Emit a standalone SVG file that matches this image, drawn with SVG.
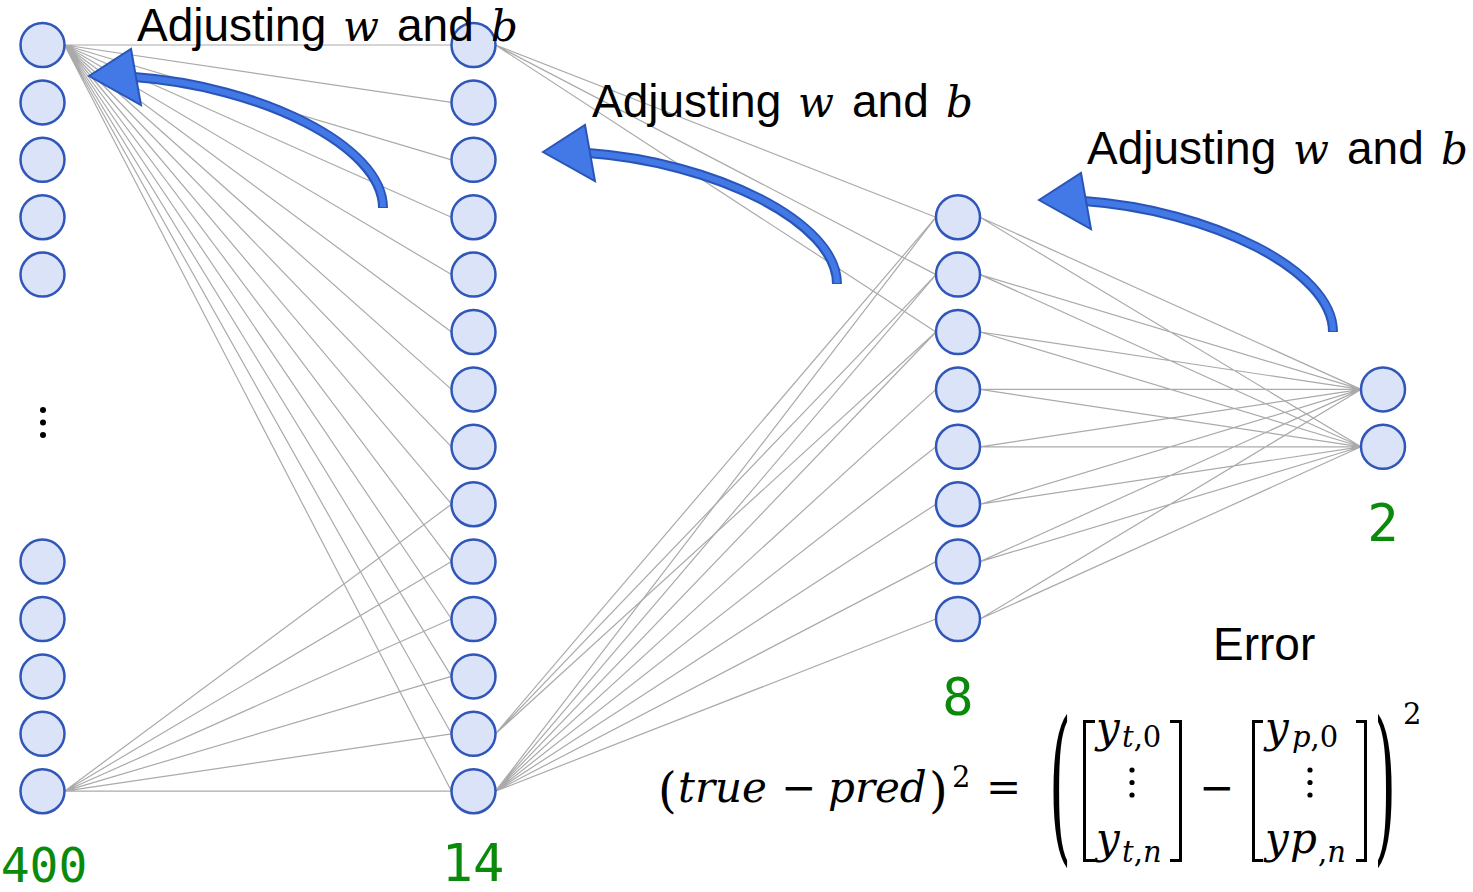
<svg xmlns="http://www.w3.org/2000/svg" width="1473" height="892" viewBox="0 0 1473 892">
<style>
.node{fill:#dae3f8;stroke:#2f56b8;stroke-width:2.5}
.conn{stroke:#aaaaaa;stroke-width:1.2;fill:none}
.lbl{font-family:"Liberation Sans",Arial,sans-serif;font-size:46px;fill:#000}
.mi{font-family:"DejaVu Serif",serif;font-style:italic;font-size:42px}
.num{font-family:"DejaVu Sans Mono",monospace;font-size:52px;fill:#0a8a0a;text-anchor:middle}
.math{font-family:"DejaVu Serif",serif;font-size:42px;fill:#000}
.it{font-style:italic}
.sub{font-size:29px}
.brk{fill:none;stroke:#000;stroke-width:3}
.dot{fill:#000}
</style>
<defs>
<g id="arrowShape">
<path d="M45,1 C171,10 294,70 294,132" fill="none" stroke="#2a55b8" stroke-width="10"/>
<path d="M45,1 C171,10 294,70 294,131" fill="none" stroke="#4279e6" stroke-width="6"/>
<polygon points="0,0 42,-27 52,29" fill="#4279e6" stroke="#2a55b8" stroke-width="2"/>
</g>
</defs>
<rect width="1473" height="892" fill="#fff"/>

<g id="connectors" class="conn">
<path d="M64.5,45 L451.5,45 M64.5,45 L451.5,102.4 M64.5,45 L451.5,159.8 M64.5,45 L451.5,217.2 M64.5,45 L451.5,274.6 M64.5,45 L451.5,332 M64.5,45 L451.5,389.4 M64.5,45 L451.5,446.8 M64.5,45 L451.5,504.2 M64.5,45 L451.5,561.6 M64.5,45 L451.5,619 M64.5,45 L451.5,676.4 M64.5,45 L451.5,733.8 M64.5,45 L451.5,791.2"/>
<path d="M64.5,791.2 L451.5,504.2 M64.5,791.2 L451.5,561.6 M64.5,791.2 L451.5,619 M64.5,791.2 L451.5,676.4 M64.5,791.2 L451.5,733.8 M64.5,791.2 L451.5,791.2"/>
<path d="M495.5,45 L936,217.2 M495.5,45 L936,274.6 M495.5,45 L936,332"/>
<path d="M495.5,733.8 L936,217.2 M495.5,733.8 L936,274.6 M495.5,733.8 L936,332"/>
<path d="M495.5,791.2 L936,217.2 M495.5,791.2 L936,274.6 M495.5,791.2 L936,332 M495.5,791.2 L936,389.4 M495.5,791.2 L936,446.8 M495.5,791.2 L936,504.2 M495.5,791.2 L936,561.6 M495.5,791.2 L936,619"/>
<path d="M980,217.2 L1361,389.4 M980,217.2 L1361,446.8 M980,274.6 L1361,389.4 M980,274.6 L1361,446.8 M980,332 L1361,389.4 M980,332 L1361,446.8 M980,389.4 L1361,389.4 M980,389.4 L1361,446.8 M980,446.8 L1361,389.4 M980,446.8 L1361,446.8 M980,504.2 L1361,389.4 M980,504.2 L1361,446.8 M980,561.6 L1361,389.4 M980,561.6 L1361,446.8 M980,619 L1361,389.4 M980,619 L1361,446.8"/>
</g>

<g id="input-layer">
<g id="in1"><circle class="node" cx="42.5" cy="45" r="22"/></g>
<g id="in2"><circle class="node" cx="42.5" cy="102.4" r="22"/></g>
<g id="in3"><circle class="node" cx="42.5" cy="159.8" r="22"/></g>
<g id="in4"><circle class="node" cx="42.5" cy="217.2" r="22"/></g>
<g id="in5"><circle class="node" cx="42.5" cy="274.6" r="22"/></g>
<g id="in-dots"><circle class="dot" cx="43" cy="410" r="3"/><circle class="dot" cx="43" cy="422.5" r="3"/><circle class="dot" cx="43" cy="435" r="3"/></g>
<g id="in396"><circle class="node" cx="42.5" cy="561.6" r="22"/></g>
<g id="in397"><circle class="node" cx="42.5" cy="619" r="22"/></g>
<g id="in398"><circle class="node" cx="42.5" cy="676.4" r="22"/></g>
<g id="in399"><circle class="node" cx="42.5" cy="733.8" r="22"/></g>
<g id="in400"><circle class="node" cx="42.5" cy="791.2" r="22"/></g>
</g>

<g id="hidden1-layer">
<g id="h1-1"><circle class="node" cx="473.5" cy="45" r="22"/></g>
<g id="h1-2"><circle class="node" cx="473.5" cy="102.4" r="22"/></g>
<g id="h1-3"><circle class="node" cx="473.5" cy="159.8" r="22"/></g>
<g id="h1-4"><circle class="node" cx="473.5" cy="217.2" r="22"/></g>
<g id="h1-5"><circle class="node" cx="473.5" cy="274.6" r="22"/></g>
<g id="h1-6"><circle class="node" cx="473.5" cy="332" r="22"/></g>
<g id="h1-7"><circle class="node" cx="473.5" cy="389.4" r="22"/></g>
<g id="h1-8"><circle class="node" cx="473.5" cy="446.8" r="22"/></g>
<g id="h1-9"><circle class="node" cx="473.5" cy="504.2" r="22"/></g>
<g id="h1-10"><circle class="node" cx="473.5" cy="561.6" r="22"/></g>
<g id="h1-11"><circle class="node" cx="473.5" cy="619" r="22"/></g>
<g id="h1-12"><circle class="node" cx="473.5" cy="676.4" r="22"/></g>
<g id="h1-13"><circle class="node" cx="473.5" cy="733.8" r="22"/></g>
<g id="h1-14"><circle class="node" cx="473.5" cy="791.2" r="22"/></g>
</g>

<g id="hidden2-layer">
<g id="h2-1"><circle class="node" cx="958" cy="217.2" r="22"/></g>
<g id="h2-2"><circle class="node" cx="958" cy="274.6" r="22"/></g>
<g id="h2-3"><circle class="node" cx="958" cy="332" r="22"/></g>
<g id="h2-4"><circle class="node" cx="958" cy="389.4" r="22"/></g>
<g id="h2-5"><circle class="node" cx="958" cy="446.8" r="22"/></g>
<g id="h2-6"><circle class="node" cx="958" cy="504.2" r="22"/></g>
<g id="h2-7"><circle class="node" cx="958" cy="561.6" r="22"/></g>
<g id="h2-8"><circle class="node" cx="958" cy="619" r="22"/></g>
</g>

<g id="output-layer">
<g id="out1"><circle class="node" cx="1383" cy="389.4" r="22"/></g>
<g id="out2"><circle class="node" cx="1383" cy="446.8" r="22"/></g>
</g>

<g id="arrow1"><use href="#arrowShape" transform="translate(89,76)"/></g>
<g id="arrow2"><use href="#arrowShape" transform="translate(543,152)"/></g>
<g id="arrow3"><use href="#arrowShape" transform="translate(1039,200)"/></g>

<g id="label1"><text class="lbl" y="41"><tspan x="137">Adjusting</tspan><tspan x="343" class="mi">w</tspan><tspan x="397">and</tspan><tspan x="491" class="mi">b</tspan></text></g>
<g id="label2"><text class="lbl" y="117"><tspan x="592">Adjusting</tspan><tspan x="798" class="mi">w</tspan><tspan x="852">and</tspan><tspan x="946" class="mi">b</tspan></text></g>
<g id="label3"><text class="lbl" y="164"><tspan x="1087">Adjusting</tspan><tspan x="1293" class="mi">w</tspan><tspan x="1347">and</tspan><tspan x="1441" class="mi">b</tspan></text></g>

<g id="counts">
<text class="num" style="font-size:48px" x="44" y="882">400</text>
<text class="num" x="473" y="881">14</text>
<text class="num" x="958" y="715">8</text>
<text class="num" x="1383" y="541">2</text>
</g>

<g id="error-label"><text class="lbl" x="1213" y="660">Error</text></g>

<g id="formula">
<text class="math" style="font-size:48px" x="658" y="807">(</text>
<text class="math it" x="678" y="802">true</text>
<text class="math" x="781" y="802">−</text>
<text class="math it" x="828" y="802">pred</text>
<text class="math" style="font-size:48px" x="929" y="807">)</text>
<text class="math sub" x="952" y="787">2</text>
<text class="math" x="986" y="802">=</text>
<text class="math" transform="matrix(1.35,0,0,4,1049,841.6)" x="0" y="0">(</text>
<polyline class="brk" points="1095,721.5 1084.5,721.5 1084.5,860.5 1095,860.5"/>
<text class="math it" x="1096" y="742">y</text>
<text class="math sub" x="1122" y="747"><tspan class="it">t</tspan>,0</text>
<circle class="dot" cx="1132" cy="770" r="2.6"/><circle class="dot" cx="1132" cy="782.5" r="2.6"/><circle class="dot" cx="1132" cy="795" r="2.6"/>
<text class="math it" x="1096" y="853">y</text>
<text class="math sub" x="1122" y="862"><tspan class="it">t</tspan>,<tspan class="it">n</tspan></text>
<polyline class="brk" points="1170,721.5 1180.5,721.5 1180.5,860.5 1170,860.5"/>
<text class="math" x="1199" y="802">−</text>
<polyline class="brk" points="1263,721.5 1253.5,721.5 1253.5,860.5 1263,860.5"/>
<text class="math it" x="1265" y="742">y</text>
<text class="math sub" x="1292" y="747"><tspan class="it">p</tspan>,0</text>
<circle class="dot" cx="1310" cy="770" r="2.6"/><circle class="dot" cx="1310" cy="782.5" r="2.6"/><circle class="dot" cx="1310" cy="795" r="2.6"/>
<text class="math it" x="1265" y="853">y</text>
<text class="math it" x="1290" y="853">p</text>
<text class="math sub" x="1318" y="862">,<tspan class="it">n</tspan></text>
<polyline class="brk" points="1356,721.5 1365.5,721.5 1365.5,860.5 1356,860.5"/>
<text class="math" transform="matrix(1.35,0,0,4,1374,841.6)" x="0" y="0">)</text>
<text class="math sub" x="1403" y="724">2</text>
</g>
</svg>
